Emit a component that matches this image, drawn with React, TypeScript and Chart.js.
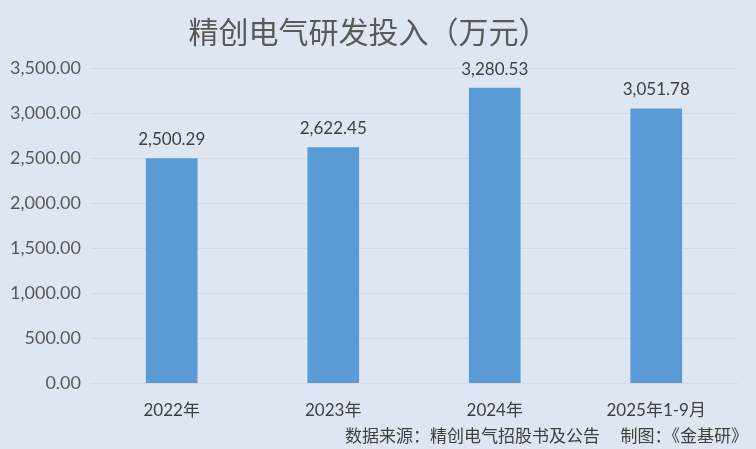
import { useEffect, useRef } from 'react';
import { Chart, registerables, Plugin } from 'chart.js';

Chart.register(...registerables);

const categories = ['2022年', '2023年', '2024年', '2025年1-9月'];
const rdSpend = [2500.29, 2622.45, 3280.53, 3051.78];
const yTicks = [0, 500, 1000, 1500, 2000, 2500, 3000, 3500];
const sourceNote = '数据来源：精创电气招股书及公告';
const madeBy = '制图：《金基研》';

const FONT = "Lato, 'Noto Sans CJK SC', sans-serif";
const BG = '#dee7f1';

const fmt = (v: number) =>
  v.toLocaleString('en-US', { minimumFractionDigits: 2, maximumFractionDigits: 2 });

// Value labels above each bar
const valueLabels: Plugin<'bar'> = {
  id: 'valueLabels',
  afterDatasetsDraw(chart) {
    const { ctx } = chart;
    const meta = chart.getDatasetMeta(0);
    ctx.save();
    ctx.fillStyle = '#404040';
    ctx.font = `17px ${FONT}`;
    ctx.textAlign = 'center';
    ctx.textBaseline = 'alphabetic';
    meta.data.forEach((bar, i) => {
      ctx.fillText(fmt(rdSpend[i]), bar.x, bar.y - 13);
    });
    ctx.restore();
  },
};

// Background + source footer
const decor: Plugin<'bar'> = {
  id: 'decor',
  beforeDraw(chart) {
    const { ctx, width, height } = chart;
    ctx.save();
    ctx.fillStyle = BG;
    ctx.fillRect(0, 0, width, height);
    ctx.restore();
  },
  afterDraw(chart) {
    const { ctx, width, height } = chart;
    ctx.save();
    ctx.fillStyle = '#404040';
    ctx.font = `17px ${FONT}`;
    ctx.textBaseline = 'middle';
    ctx.textAlign = 'right';
    ctx.fillText(madeBy, width - 8, height - 12);
    ctx.fillText(sourceNote, width - 156, height - 12);
    ctx.restore();
  },
};

export default function App() {
  const chartRef = useRef<HTMLCanvasElement>(null);
  const chartInstance = useRef<Chart | null>(null);

  useEffect(() => {
    document.body.style.margin = '0';
    if (!chartRef.current) return;
    if (chartInstance.current) chartInstance.current.destroy();
    const ctx = chartRef.current.getContext('2d');
    if (!ctx) return;

    chartInstance.current = new Chart(ctx, {
      type: 'bar',
      data: {
        labels: categories,
        datasets: [
          {
            data: rdSpend,
            backgroundColor: '#5b9bd5',
            categoryPercentage: 1,
            barPercentage: 0.32,
          },
        ],
      },
      options: {
        responsive: true,
        maintainAspectRatio: false,
        animation: false,
        layout: { padding: { left: 0, right: 19, top: 4, bottom: 19 } },
        scales: {
          x: {
            grid: { display: false },
            border: { color: '#d4dce6' },
            ticks: { color: '#404040', font: { family: FONT, size: 17 }, padding: 9 },
          },
          y: {
            min: 0,
            max: 3500,
            afterBuildTicks: (axis) => {
              axis.ticks = yTicks.map((v) => ({ value: v }));
            },
            border: { display: false },
            grid: { color: '#d0d9e4', drawTicks: false },
            ticks: {
              color: '#595959',
              font: { family: FONT, size: 18 },
              padding: 10,
              callback: (v) => fmt(Number(v)),
            },
          },
        },
        plugins: {
          legend: { display: false },
          tooltip: { enabled: false },
          title: {
            display: true,
            text: '精创电气研发投入（万元）',
            color: '#595959',
            font: { family: FONT, size: 30, weight: 'normal' },
            padding: { top: 11, bottom: 17 },
          },
        },
      },
      plugins: [decor, valueLabels],
    });

    return () => {
      if (chartInstance.current) {
        chartInstance.current.destroy();
        chartInstance.current = null;
      }
    };
  }, []);

  return (
    <div style={{ width: 756, height: 449, background: BG }}>
      <canvas ref={chartRef}></canvas>
    </div>
  );
}
